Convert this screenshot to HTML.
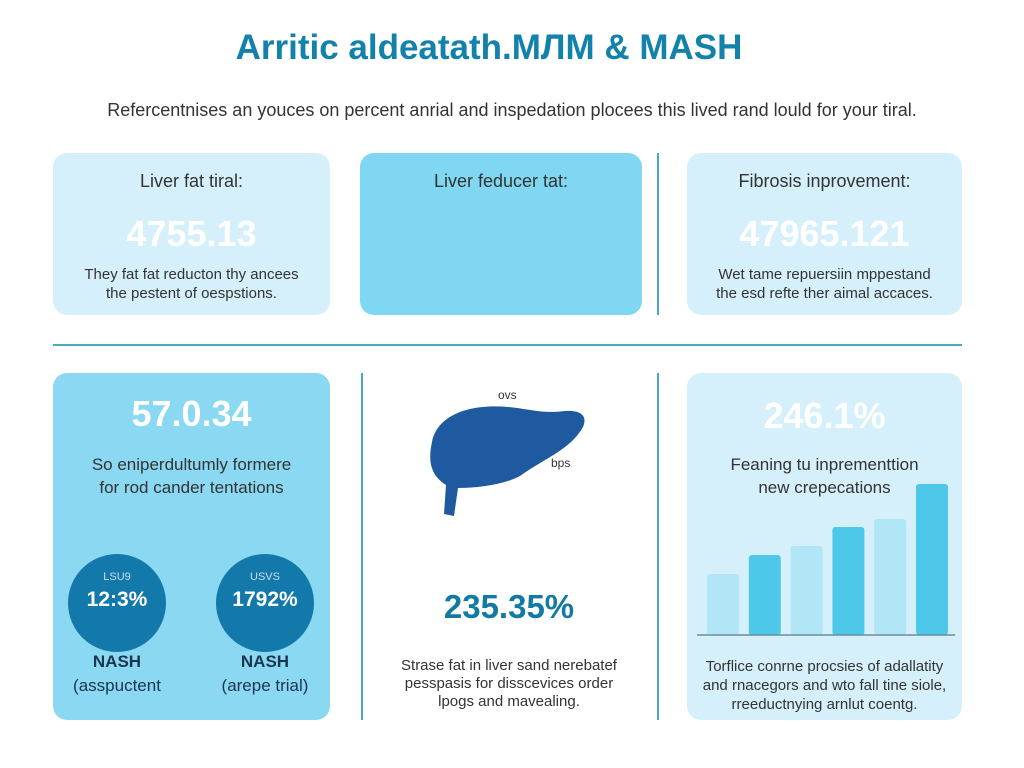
<!DOCTYPE html>
<html><head><meta charset="utf-8"><style>
body{margin:0;width:1024px;height:768px;background:#fff;font-family:"Liberation Sans",sans-serif;position:relative;overflow:hidden}
.a{position:absolute}
.c{text-align:center}
.card{position:absolute;border-radius:14px}
</style></head><body>
<div class="a c" style="left:0;width:978px;top:28px;font-size:35px;font-weight:bold;color:#1282ab">Arritic aldeatath.MЛM &amp; MASH</div>
<div class="a c" style="left:0;width:1024px;top:100px;font-size:18px;color:#333">Refercentnises an youces on percent anrial and inspedation plocees this lived rand lould for your tiral.</div>

<div class="card" style="left:53px;top:153px;width:277px;height:162px;background:#d5f0fa">
 <div class="a c" style="left:0;width:100%;top:18px;font-size:18px;color:#333">Liver fat tiral:</div>
 <div class="a c" style="left:0;width:100%;top:60px;font-size:36px;font-weight:bold;color:#fff">4755.13</div>
 <div class="a c" style="left:0;width:100%;top:112px;font-size:15px;line-height:19px;color:#333">They fat fat reducton thy ancees<br>the pestent of oespstions.</div>
</div>
<div class="card" style="left:360px;top:153px;width:282px;height:162px;background:#7fd7f1">
 <div class="a c" style="left:0;width:100%;top:18px;font-size:18px;color:#333">Liver feducer tat:</div>
</div>
<div class="a" style="left:657px;top:153px;width:2px;height:162px;background:#4aa8c0"></div>
<div class="card" style="left:687px;top:153px;width:275px;height:162px;background:#d5f0fa">
 <div class="a c" style="left:0;width:100%;top:18px;font-size:18px;color:#333">Fibrosis inprovement:</div>
 <div class="a c" style="left:0;width:100%;top:60px;font-size:36px;font-weight:bold;color:#fff">47965.121</div>
 <div class="a c" style="left:0;width:100%;top:112px;font-size:15px;line-height:19px;color:#333">Wet tame repuersiin mppestand<br>the esd refte ther aimal accaces.</div>
</div>
<div class="a" style="left:53px;top:344px;width:909px;height:2px;background:#4aa8c0"></div>

<div class="card" style="left:53px;top:373px;width:277px;height:347px;background:#8bd8f2">
 <div class="a c" style="left:0;width:100%;top:20px;font-size:36px;font-weight:bold;color:#fff">57.0.34</div>
 <div class="a c" style="left:0;width:100%;top:80px;font-size:17px;line-height:23px;color:#333">So eniperdultumly formere<br>for rod cander tentations</div>
 <div class="a" style="left:15px;top:181px;width:98px;height:98px;border-radius:50%;background:#1279aa"></div>
 <div class="a c" style="left:15px;width:98px;top:198px;font-size:11px;color:#cde">LSU9</div>
 <div class="a c" style="left:15px;width:98px;top:215px;font-size:21px;font-weight:bold;color:#fff">12:3%</div>
 <div class="a" style="left:163px;top:181px;width:98px;height:98px;border-radius:50%;background:#1279aa"></div>
 <div class="a c" style="left:163px;width:98px;top:198px;font-size:11px;color:#cde">USVS</div>
 <div class="a c" style="left:163px;width:98px;top:215px;font-size:21px;font-weight:bold;color:#fff">1792%</div>
 <div class="a c" style="left:0;width:128px;top:277px;font-size:17px;line-height:24px;font-weight:bold;color:#1a3550">NASH<br><span style="font-weight:normal">(asspuctent</span></div>
 <div class="a c" style="left:148px;width:128px;top:277px;font-size:17px;line-height:24px;font-weight:bold;color:#1a3550">NASH<br><span style="font-weight:normal">(arepe trial)</span></div>
</div>
<div class="a" style="left:361px;top:373px;width:2px;height:347px;background:#4aa8c0"></div>
<div class="a" style="left:657px;top:373px;width:2px;height:347px;background:#4aa8c0"></div>

<svg class="a" style="left:420px;top:380px" width="180" height="150">
 <path d="M12,62 C18,32 55,24 88,27 C110,29 122,34 145,31 C160,30 168,35 163,47 C150,70 125,78 100,96 C85,104 60,108 38,108 L34,136 L24,134 L26,105 C10,95 8,80 12,62 Z" fill="#1f5aa0"/>
 <text x="78" y="19" font-size="12" fill="#333" font-family="Liberation Sans">ovs</text>
 <text x="131" y="87" font-size="12" fill="#333" font-family="Liberation Sans">bps</text>
</svg>
<div class="a c" style="left:361px;width:296px;top:588px;font-size:33px;font-weight:bold;color:#127aa3">235.35%</div>
<div class="a c" style="left:361px;width:296px;top:657px;font-size:15px;line-height:18px;color:#333">Strase fat in liver sand nerebatef<br>pesspasis for disscevices order<br>lpogs and mavealing.</div>

<div class="card" style="left:687px;top:373px;width:275px;height:347px;background:#d5f0fa">
 <div class="a c" style="left:0;width:100%;top:22px;font-size:36px;font-weight:bold;color:#fff">246.1%</div>
 <div class="a c" style="left:0;width:100%;top:80px;font-size:17px;line-height:23px;color:#333">Feaning tu inprementtion<br>new crepecations</div>
 <div class="a c" style="left:0;width:100%;top:284px;font-size:15px;line-height:19px;color:#333">Torflice conrne procsies of adallatity<br>and rnacegors and wto fall tine siole,<br>rreeductnying arnlut coentg.</div>
</div>
<svg id="chart" class="a" style="left:687px;top:373px" width="275" height="280"></svg>
<script>
const categories=["b1","b2","b3","b4","b5","b6"];
const values=[61,80,89,108,116,151];
const colors=["#b0e6f6","#4ec8e8","#b0e6f6","#4ec8e8","#b0e6f6","#4ec8e8"];
const svg=document.getElementById('chart');
const ns="http://www.w3.org/2000/svg";
const baseY=262, x0=20, step=41.8, bw=32, scale=1;
function yOf(v){return baseY-v*scale;}
function xOf(i){return x0+i*step;}
categories.forEach((c,i)=>{
 const r=document.createElementNS(ns,'rect');
 
 
 r.setAttribute('x',xOf(i));r.setAttribute('y',yOf(values[i]));
 r.setAttribute('width',bw);r.setAttribute('height',baseY-yOf(values[i]));
 r.setAttribute('rx',3);r.setAttribute('fill',colors[i]);
 svg.appendChild(r);
});
const l=document.createElementNS(ns,'line');


l.setAttribute('x1',10);l.setAttribute('x2',268);l.setAttribute('y1',baseY);l.setAttribute('y2',baseY);
l.setAttribute('stroke','#6a8e9a');l.setAttribute('stroke-width',1.5);
svg.appendChild(l);
</script>
</body></html>
